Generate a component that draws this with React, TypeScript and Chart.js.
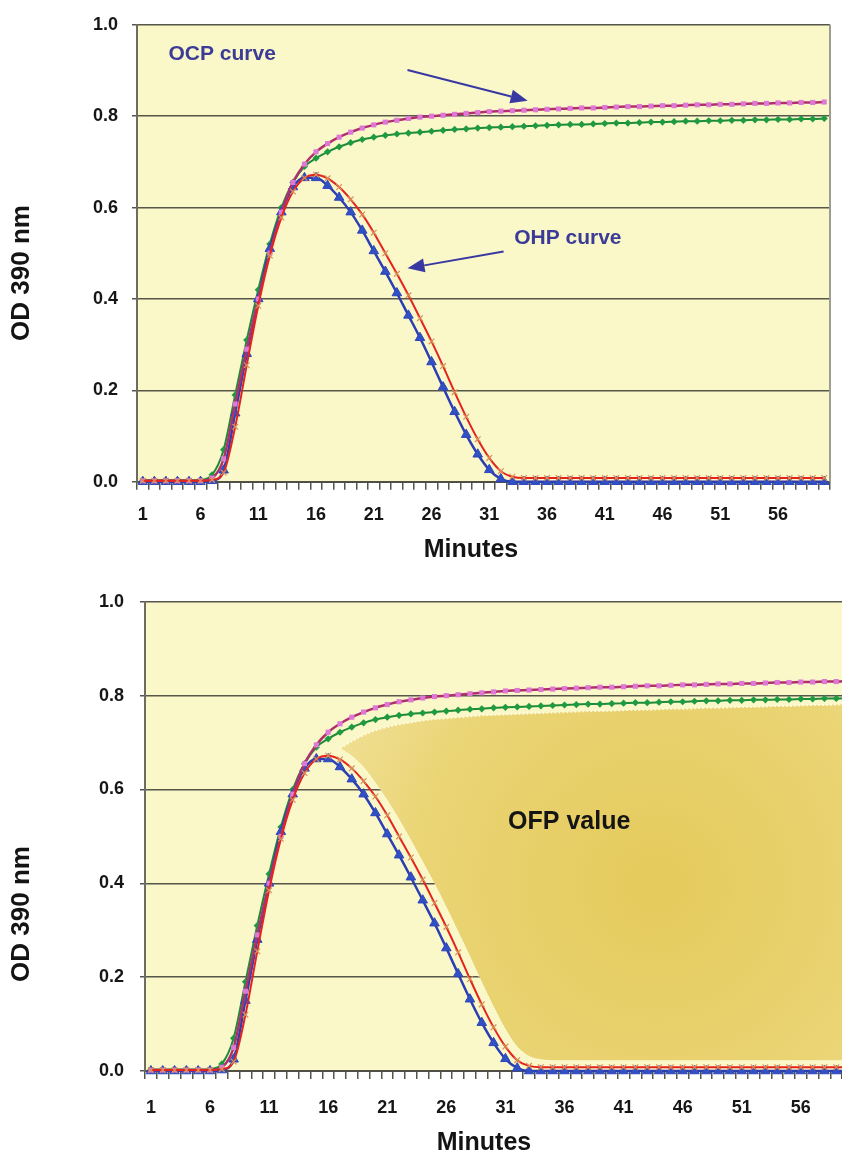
import React, { useEffect, useRef } from 'react';
import { Chart, registerables } from 'chart.js';

Chart.register(...registerables);

// ---------- data ----------
const minutes = [
  '1', '2', '3', '4', '5', '6', '7', '8', '9', '10',
  '11', '12', '13', '14', '15', '16', '17', '18', '19', '20',
  '21', '22', '23', '24', '25', '26', '27', '28', '29', '30',
  '31', '32', '33', '34', '35', '36', '37', '38', '39', '40',
  '41', '42', '43', '44', '45', '46', '47', '48', '49', '50',
  '51', '52', '53', '54', '55', '56', '57', '58', '59', '60',
];

// OCP curve (magenta, squares)
const ocpCurve = [
  0.002, 0.002, 0.002, 0.002, 0.002, 0.002, 0.008, 0.05, 0.17, 0.29,
  0.40, 0.50, 0.59, 0.655, 0.695, 0.722, 0.740, 0.754, 0.765, 0.774,
  0.781, 0.787, 0.791, 0.795, 0.798, 0.800, 0.802, 0.804, 0.806, 0.808,
  0.810, 0.811, 0.812, 0.813, 0.814, 0.815, 0.816, 0.817, 0.818, 0.818,
  0.819, 0.820, 0.821, 0.821, 0.822, 0.823, 0.823, 0.824, 0.825, 0.825,
  0.826, 0.826, 0.827, 0.828, 0.828, 0.829, 0.829, 0.830, 0.830, 0.831,
];

// green diamonds
const greenSeries = [
  0.003, 0.003, 0.003, 0.003, 0.003, 0.004, 0.015, 0.07, 0.19, 0.31,
  0.42, 0.52, 0.60, 0.655, 0.69, 0.708, 0.722, 0.733, 0.742, 0.749,
  0.754, 0.758, 0.761, 0.763, 0.765, 0.767, 0.769, 0.771, 0.772, 0.774,
  0.775, 0.776, 0.777, 0.778, 0.779, 0.780, 0.781, 0.782, 0.782, 0.783,
  0.784, 0.785, 0.785, 0.786, 0.787, 0.787, 0.788, 0.789, 0.789, 0.790,
  0.790, 0.791, 0.791, 0.792, 0.792, 0.793, 0.793, 0.794, 0.794, 0.795,
];

// OHP curve (red line, crosses)
const ohpCurve = [
  0.002, 0.002, 0.002, 0.002, 0.002, 0.002, 0.004, 0.02, 0.12, 0.255,
  0.385, 0.495, 0.578, 0.635, 0.665, 0.672, 0.664, 0.645, 0.618, 0.585,
  0.545, 0.50, 0.455, 0.408, 0.358, 0.307, 0.253, 0.196, 0.142, 0.093,
  0.052, 0.023, 0.011, 0.008, 0.008, 0.008, 0.008, 0.008, 0.008, 0.008,
  0.008, 0.008, 0.008, 0.008, 0.008, 0.008, 0.008, 0.008, 0.008, 0.008,
  0.008, 0.008, 0.008, 0.008, 0.008, 0.008, 0.008, 0.008, 0.008, 0.008,
];

// blue triangles
const blueSeries = [
  0.0, 0.0, 0.0, 0.0, 0.0, 0.0, 0.002, 0.025, 0.15, 0.28,
  0.40, 0.51, 0.59, 0.645, 0.665, 0.665, 0.648, 0.622, 0.59, 0.55,
  0.505, 0.46, 0.413, 0.364, 0.315, 0.262, 0.207, 0.153, 0.103, 0.06,
  0.026, 0.006, 0.0, 0.0, 0.0, 0.0, 0.0, 0.0, 0.0, 0.0,
  0.0, 0.0, 0.0, 0.0, 0.0, 0.0, 0.0, 0.0, 0.0, 0.0,
  0.0, 0.0, 0.0, 0.0, 0.0, 0.0, 0.0, 0.0, 0.0, 0.0,
];

// OFP shaded region (lower chart): upper and lower edges
const ofpUpper = [
  null, null, null, null, null, null, null, null, null, null,
  null, null, null, null, null, null, 0.688, 0.703, 0.716, 0.726,
  0.733, 0.739, 0.743, 0.747, 0.750, 0.752, 0.754, 0.756, 0.758, 0.759,
  0.760, 0.761, 0.762, 0.763, 0.764, 0.765, 0.766, 0.767, 0.767, 0.768,
  0.769, 0.770, 0.770, 0.771, 0.772, 0.772, 0.773, 0.774, 0.774, 0.775,
  0.776, 0.776, 0.777, 0.778, 0.778, 0.779, 0.780, 0.780, 0.781, 0.782,
];
const ofpLower = [
  null, null, null, null, null, null, null, null, null, null,
  null, null, null, null, null, null, 0.688, 0.672, 0.648, 0.615,
  0.578, 0.537, 0.493, 0.447, 0.400, 0.350, 0.298, 0.245, 0.190, 0.138,
  0.090, 0.052, 0.032, 0.025, 0.023, 0.023, 0.023, 0.023, 0.023, 0.023,
  0.023, 0.023, 0.023, 0.023, 0.023, 0.023, 0.023, 0.023, 0.023, 0.023,
  0.023, 0.023, 0.023, 0.023, 0.023, 0.023, 0.023, 0.023, 0.023, 0.023,
];

const yTickValues = [0, 0.2, 0.4, 0.6, 0.8, 1.0];
const xLabelStep = 5;

// annotations in data coordinates (category index, value)
const topNotes = [
  { text: 'OCP curve', x: 6.87, y: 0.935 },
  { text: 'OHP curve', x: 36.8, y: 0.534 },
];
const topArrows = [
  { x0: 22.92, y0: 0.901, x1: 33.32, y1: 0.834 },
  { x0: 31.24, y0: 0.504, x1: 22.92, y1: 0.467 },
];
const bottomNotes = [{ text: 'OFP value', x: 35.4, y: 0.531 }];

// ---------- styling ----------
const FONT = "'Liberation Sans', Arial, Helvetica, sans-serif";
const PLOT_BG = '#FAF7C8';
const GRID = '#56564A';

type Geo = {
  width: number;
  height: number;
  left: number;
  top: number;
  right: number;
  bottom: number;
  xPad: number;
  yPad: number;
  yTitle: [number, number];
  xTitle: [number, number];
  rightBorder: boolean;
  shaded: boolean;
  notes: { text: string; x: number; y: number }[];
  arrows: { x0: number; y0: number; x1: number; y1: number }[];
  noteColor: string;
  noteSize: number;
};

function buildConfig(g: Geo): any {
  const bgPlugin = {
    id: 'plotBg',
    beforeDraw(chart: any) {
      const { ctx, chartArea: a } = chart;
      ctx.save();
      ctx.fillStyle = PLOT_BG;
      ctx.fillRect(a.left, a.top, a.right - a.left, a.bottom - a.top);
      ctx.restore();
    },
  };
  const extrasPlugin = {
    id: 'extras',
    afterDatasetsDraw(chart: any) {
      const { ctx, chartArea: a, scales } = chart;
      const xs = scales.x;
      const ys = scales.y;
      ctx.save();
      if (g.rightBorder) {
        ctx.strokeStyle = '#9C9C92';
        ctx.lineWidth = 2;
        ctx.beginPath();
        ctx.moveTo(a.right, a.top);
        ctx.lineTo(a.right, a.bottom);
        ctx.stroke();
      }
      // arrows
      ctx.strokeStyle = '#3838A2';
      ctx.fillStyle = '#3838A2';
      for (const ar of g.arrows) {
        const x0 = xs.getPixelForValue(ar.x0);
        const y0 = ys.getPixelForValue(ar.y0);
        const x1 = xs.getPixelForValue(ar.x1);
        const y1 = ys.getPixelForValue(ar.y1);
        const ang = Math.atan2(y1 - y0, x1 - x0);
        const L = 17;
        const W = 7;
        const bx = x1 - Math.cos(ang) * L;
        const by = y1 - Math.sin(ang) * L;
        ctx.lineWidth = 2;
        ctx.beginPath();
        ctx.moveTo(x0, y0);
        ctx.lineTo(bx, by);
        ctx.stroke();
        ctx.beginPath();
        ctx.moveTo(x1, y1);
        ctx.lineTo(bx + Math.sin(ang) * W, by - Math.cos(ang) * W);
        ctx.lineTo(bx - Math.sin(ang) * W, by + Math.cos(ang) * W);
        ctx.closePath();
        ctx.fill();
      }
      // notes
      ctx.fillStyle = g.noteColor;
      ctx.font = `bold ${g.noteSize}px ${FONT}`;
      ctx.textAlign = 'center';
      ctx.textBaseline = 'middle';
      for (const n of g.notes) {
        ctx.fillText(n.text, xs.getPixelForValue(n.x), ys.getPixelForValue(n.y));
      }
      ctx.restore();
    },
    afterDraw(chart: any) {
      const { ctx } = chart;
      ctx.save();
      ctx.fillStyle = '#141414';
      ctx.textAlign = 'center';
      ctx.textBaseline = 'middle';
      ctx.font = `bold 25px ${FONT}`;
      ctx.fillText('Minutes', g.xTitle[0], g.xTitle[1]);
      ctx.translate(g.yTitle[0], g.yTitle[1]);
      ctx.rotate(-Math.PI / 2);
      ctx.font = `bold 26px ${FONT}`;
      ctx.fillText('OD 390 nm', 0, 0);
      ctx.restore();
    },
  };

  const datasets: any[] = [
    {
      label: 'OHP curve',
      data: ohpCurve,
      borderColor: '#E4231F',
      borderWidth: 2,
      pointStyle: 'crossRot',
      pointRadius: 4,
      pointBorderColor: '#D8905A',
      pointBorderWidth: 1.2,
      pointBackgroundColor: '#D8905A',
    },
    {
      label: 'OCP curve',
      data: ocpCurve,
      borderColor: '#B0306E',
      borderWidth: 2.5,
      pointStyle: 'rect',
      pointRadius: 3.6,
      pointBorderWidth: 0,
      pointBackgroundColor: '#DE78D6',
    },
    {
      label: 'Blue',
      data: blueSeries,
      borderColor: '#2B3FB2',
      borderWidth: 2.5,
      pointStyle: 'triangle',
      pointRadius: 5.5,
      pointBorderWidth: 1,
      pointBorderColor: '#2E46BA',
      pointBackgroundColor: '#3050C4',
    },
    {
      label: 'Green',
      data: greenSeries,
      borderColor: '#1E8A3A',
      borderWidth: 2,
      pointStyle: 'rectRot',
      pointRadius: 3.6,
      pointBorderWidth: 0,
      pointBackgroundColor: '#1E9A42',
    },
  ];
  if (g.shaded) {
    datasets.push(
      {
        label: 'OFP upper',
        data: ofpUpper,
        borderColor: 'rgba(255,252,225,0.9)',
        borderWidth: 2,
        borderDash: [2, 2],
        pointRadius: 0,
        fill: '+1',
        backgroundColor: (c: any) => {
          const a = c.chart.chartArea;
          if (!a) return '#EAD478';
          const cx = a.left + (a.right - a.left) * 0.72;
          const cy = a.top + (a.bottom - a.top) * 0.6;
          const gr = c.chart.ctx.createRadialGradient(cx, cy, 20, cx, cy, 380);
          gr.addColorStop(0, '#E5CB5E');
          gr.addColorStop(0.6, '#EAD474');
          gr.addColorStop(1, '#F2E39E');
          return gr;
        },
      },
      {
        label: 'OFP lower',
        data: ofpLower,
        borderColor: 'rgba(255,252,225,0.9)',
        borderWidth: 2,
        borderDash: [2, 2],
        pointRadius: 0,
        fill: false,
      }
    );
  }
  for (const d of datasets) {
    d.clip = false;
    d.cubicInterpolationMode = 'monotone';
    d.tension = 0.4;
    d.spanGaps = false;
    if (d.fill === undefined) d.fill = false;
  }

  const tickFont = { family: FONT, size: 18, weight: 'bold' as const };

  return {
    type: 'line',
    data: { labels: minutes, datasets },
    plugins: [bgPlugin, extrasPlugin],
    options: {
      animation: false,
      responsive: false,
      maintainAspectRatio: false,
      devicePixelRatio: 1,
      events: [],
      layout: { padding: { left: 0, top: g.top, right: g.width - g.right, bottom: 0 } },
      plugins: { legend: { display: false }, tooltip: { enabled: false }, title: { display: false } },
      scales: {
        x: {
          type: 'category',
          offset: true,
          ticks: {
            autoSkip: false,
            maxRotation: 0,
            minRotation: 0,
            padding: g.xPad,
            color: '#161616',
            font: tickFont,
            callback: (_v: any, i: number) => (i % xLabelStep === 0 ? minutes[i] : ''),
          },
          grid: {
            offset: true,
            drawOnChartArea: false,
            drawTicks: true,
            tickLength: 8,
            color: GRID,
            lineWidth: 1.5,
          },
          border: { display: true, color: '#505046', width: 2 },
          afterFit: (s: any) => {
            s.height = g.height - g.bottom;
          },
        },
        y: {
          type: 'linear',
          min: 0,
          max: 1,
          afterBuildTicks: (s: any) => {
            s.ticks = yTickValues.map((v) => ({ value: v }));
          },
          ticks: {
            padding: g.yPad,
            color: '#161616',
            font: tickFont,
            callback: (v: any) => Number(v).toFixed(1),
          },
          grid: { color: GRID, lineWidth: 1.5, tickLength: 5, drawTicks: true },
          border: { display: true, color: '#6C6C60', width: 2 },
          afterFit: (s: any) => {
            s.width = g.left;
          },
        },
      },
    },
  };
}

function ChartBox({ geo, top }: { geo: Geo; top: number }) {
  const ref = useRef<HTMLCanvasElement | null>(null);
  useEffect(() => {
    if (!ref.current) return;
    const chart = new Chart(ref.current, buildConfig(geo));
    return () => chart.destroy();
  }, []);
  return (
    <canvas
      ref={ref}
      width={geo.width}
      height={geo.height}
      style={{ position: 'absolute', left: 0, top, width: geo.width, height: geo.height, display: 'block' }}
    />
  );
}

const topGeo: Geo = {
  width: 842,
  height: 575,
  left: 137,
  top: 15,
  right: 830,
  bottom: 481.7,
  xPad: 14.5,
  yPad: 14,
  yTitle: [22, 273],
  xTitle: [471, 550],
  rightBorder: true,
  shaded: false,
  notes: topNotes,
  arrows: topArrows,
  noteColor: '#3C3C98',
  noteSize: 21,
};

const bottomGeo: Geo = {
  width: 880,
  height: 586,
  left: 145,
  top: 17,
  right: 854,
  bottom: 496,
  xPad: 18,
  yPad: 16,
  yTitle: [22, 339],
  xTitle: [484, 568],
  rightBorder: false,
  shaded: true,
  notes: bottomNotes,
  arrows: [],
  noteColor: '#151515',
  noteSize: 25,
};

export default function App() {
  return (
    <div
      style={{
        position: 'fixed',
        left: 0,
        top: 0,
        width: 842,
        height: 1161,
        overflow: 'hidden',
        background: '#ffffff',
      }}
    >
      <ChartBox geo={topGeo} top={0} />
      <ChartBox geo={bottomGeo} top={575} />
    </div>
  );
}
